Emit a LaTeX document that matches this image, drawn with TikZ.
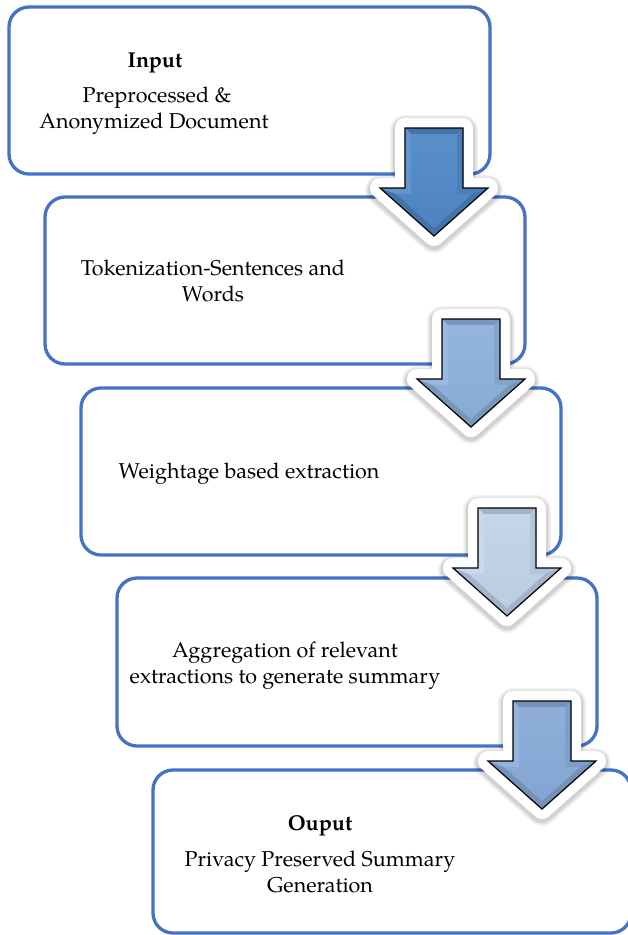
\documentclass[tikz,border=0pt]{standalone}
\usepackage{fontspec}
\setmainfont{TeX Gyre Pagella}
\usetikzlibrary{calc}
\definecolor{boxblue}{HTML}{4472C4}
\definecolor{arrA}{HTML}{4F88C6}
\definecolor{arrB}{HTML}{8DB0DC}
\definecolor{arrC}{HTML}{C1D3EA}
\definecolor{arrD}{HTML}{88AAD8}
\newcommand\flowarrow[4]{%
  \begin{scope}[shift={(#1,#2)}]
    \foreach \w/\o in {30/0.05,27/0.06,24/0.08}{
      \draw[line width=\w pt, line join=round, black, opacity=\o]
        (-29,2) -- (29,2) -- (29,62) -- (54,62) -- (0,110) -- (-54,62) -- (-29,62) -- cycle;}
    \draw[line width=20pt, line join=round, white, fill=white]
      (-29,0) -- (29,0) -- (29,60) -- (54,60) -- (0,108) -- (-54,60) -- (-29,60) -- cycle;
    \fill[#3!85!black]
      (-29,0) -- (29,0) -- (29,60) -- (54,60) -- (0,108) -- (-54,60) -- (-29,60) -- cycle;
    \fill[#3!88!white] (-29,0) -- (-23,6) -- (-23,66) -- (-38,66) -- (-54,60) -- (-29,60) -- cycle;
    \fill[#3!93!black] (29,0) -- (23,6) -- (23,66) -- (38,66) -- (54,60) -- (29,60) -- cycle;
    \shade[top color=#3!94!white, bottom color=#3!97!black]
      (-23,6) -- (23,6) -- (23,66) -- (38,66) -- (0,100) -- (-38,66) -- (-23,66) -- cycle;
    \draw[line width=1.2pt, line join=miter, black] (0,0) coordinate (#4)
      (-29,0) -- (29,0) -- (29,60) -- (54,60) -- (0,108) -- (-54,60) -- (-29,60) -- cycle;
  \end{scope}}
\begin{document}
\begin{tikzpicture}[x=1pt,y=-1pt,
  stage/.style={draw=boxblue, line width=3.3pt, rounded corners=20pt},
  txt/.style={anchor=base, inner sep=0pt, font=\fontsize{21.5}{26}\selectfont},
  ttl/.style={txt, font=\fontsize{21.5}{26}\selectfont\bfseries}]
\useasboundingbox (0,0) rectangle (628,935);
\clip (0,0) rectangle (628,935);
\fill[white] (0,0) rectangle (628,935);
% boxes
\draw[stage] (9,7) coordinate (b1) rectangle (490,174);
\draw[stage] (45,197) coordinate (b2) rectangle (525,364);
\draw[stage] (81,388) coordinate (b3) rectangle (561,555);
\draw[stage] (117,578) coordinate (b4) rectangle (597,746);
\draw[stage] (153,770) coordinate (b5) rectangle (631,933);
% texts
\node[ttl] (t1a) at (155,67) {Input};
\node[txt] (t1b) at (157,102) {Preprocessed \&};
\node[txt] (t1c) at (154,128) {Anonymized Document};
\node[txt] (t2a) at (213,275) {Tokenization-Sentences and};
\node[txt] (t2b) at (213,301) {Words};
\node[txt] (t3a) at (249,478) {Weightage based extraction};
\node[txt] (t4a) at (285,657) {Aggregation of relevant};
\node[txt] (t4b) at (285,683) {extractions to generate summary};
\node[ttl] (t5a) at (320,830) {Ouput};
\node[txt] (t5b) at (320,866) {Privacy Preserved Summary};
\node[txt] (t5c) at (320,892) {Generation};
% arrows
\flowarrow{434}{128}{arrA}{a1}
\flowarrow{471}{319}{arrB}{a2}
\flowarrow{507}{508}{arrC}{a3}
\flowarrow{542}{701}{arrD}{a4}
\end{tikzpicture}
\end{document}
